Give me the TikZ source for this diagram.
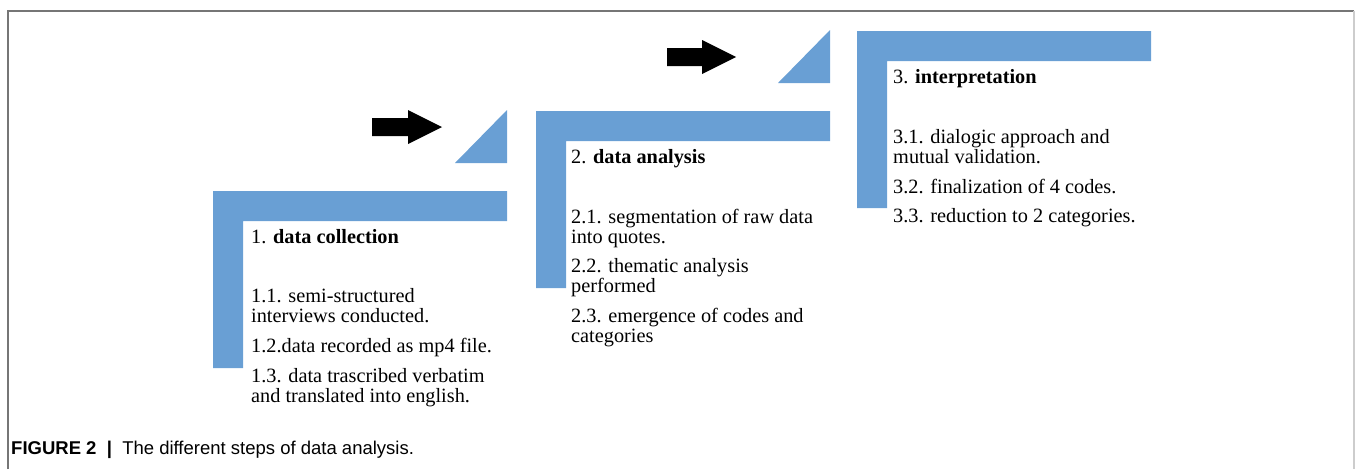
\documentclass[tikz,border=0pt]{standalone}
\usepackage{fontspec}
\setmainfont{Liberation Serif}
\setsansfont{Liberation Sans}

\definecolor{stepblue}{RGB}{105,159,212}
\definecolor{framegray}{RGB}{118,118,118}
\definecolor{sidegray}{RGB}{205,205,205}

\tikzset{
  item/.style={anchor=base west, align=left, inner sep=0pt,
    font=\fontsize{20.3}{20}\selectfont},
  caption/.style={anchor=base west, inner sep=0pt,
    font=\sffamily\fontsize{18.5}{20}\selectfont},
}

\begin{document}
\begin{tikzpicture}[x=1pt,y=-1pt]
                \useasboundingbox (0,0) rectangle (1355,469);

                % 枠
                \draw[framegray, line width=1.4pt] (8,469) -- (8,11) -- (1354,11);
                \draw[sidegray, line width=1.2pt] (1354,11) -- (1354,469);

                % L字の帯 (for ループ使用)
                \foreach \dx/\dy in {0/0, 323/-80, 644/-160} {
                    \fill[stepblue] (213+\dx,191+\dy) -- (507+\dx,191+\dy) -- (507+\dx,221+\dy)
                        -- (243+\dx,221+\dy) -- (243+\dx,368+\dy) -- (213+\dx,368+\dy) -- cycle;
                }
                \foreach \dx/\dy in {0/0, 323/-80} {
                    \fill[stepblue] (455+\dx,163+\dy) -- (507+\dx,110+\dy) -- (507+\dx,163+\dy) -- cycle;
                }

                % 矢印
                \fill[black] (372,118) -- (408,118) -- (408,110) -- (442,127)
                        -- (408,144) -- (408,136) -- (372,136) -- cycle;
                \fill[black] (667,48) -- (702,48) -- (702,40) -- (736,57)
                        -- (702,74) -- (702,66) -- (667,66) -- cycle;

                % 本文 (複数行のノードは最終行のベースラインで配置)
                \node[item] (h1) at (251,243) {1. \textbf{data collection}};
                \node[item] (c11) at (251,322) {1.1. semi-structured\\interviews conducted.};
                \node[item] (c12) at (251,352) {1.2.data recorded as mp4 file.};
                \node[item] (c13) at (251,402) {1.3. data trascribed verbatim\\and translated into english.};

                \node[item] (h2) at (571,163) {2. \textbf{data analysis}};
                \node[item] (a21) at (571,243) {2.1. segmentation of raw data\\into quotes.};
                \node[item] (a22) at (571,292) {2.2. thematic analysis\\performed};
                \node[item] (a23) at (571,342) {2.3. emergence of codes and\\categories};

                \node[item] (h3) at (893,83) {3. \textbf{interpretation}};
                \node[item] (i31) at (893,163) {3.1. dialogic approach and\\mutual validation.};
                \node[item] (i32) at (893,193) {3.2. finalization of 4 codes.};
                \node[item] (i33) at (893,222) {3.3. reduction to 2 categories.};

                \node[caption] (cap) at (11,454) {\textbf{FIGURE 2\ \ |}\ \ The different steps of data analysis.};
\end{tikzpicture}
\end{document}
